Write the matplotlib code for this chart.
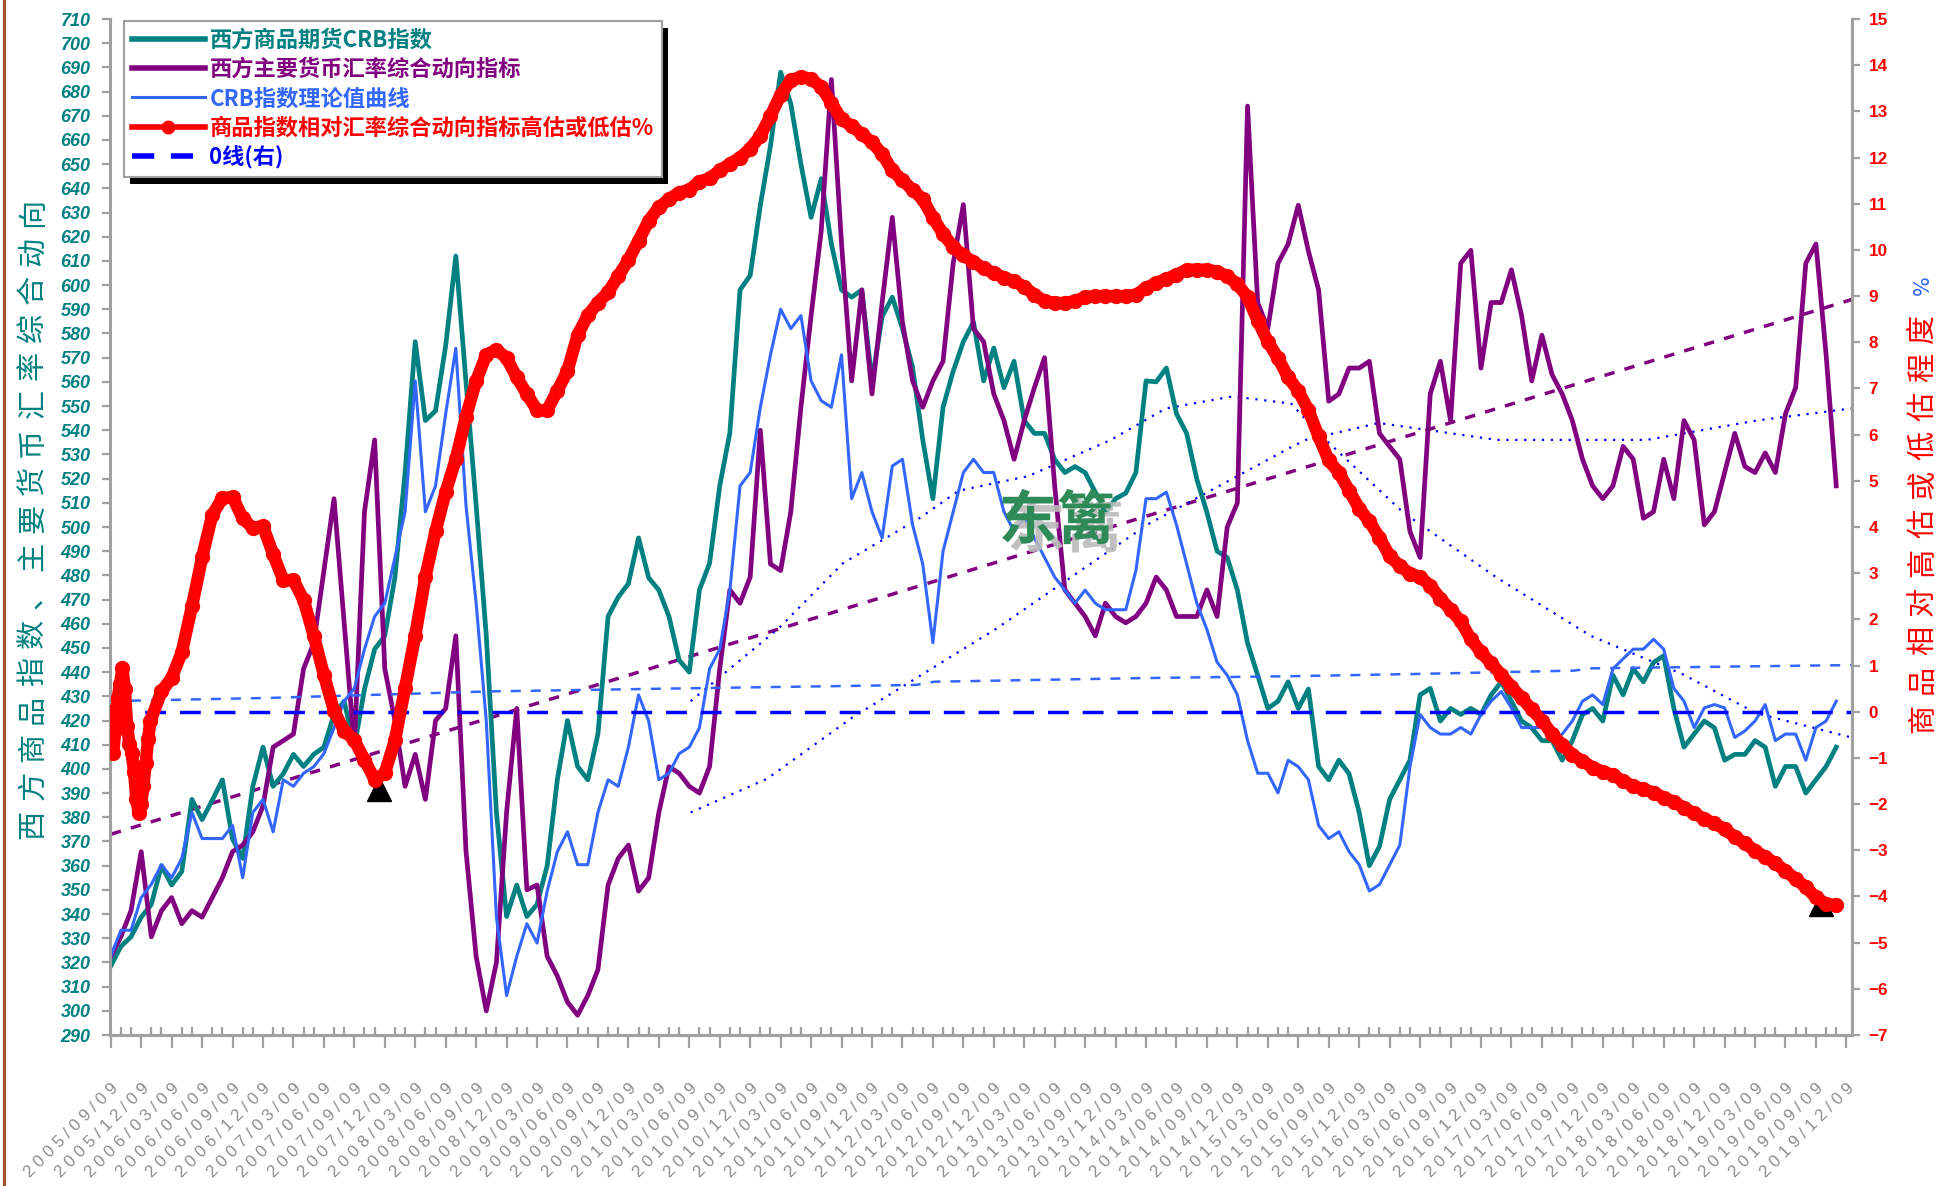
import numpy as np
import matplotlib
matplotlib.use("Agg")
import matplotlib.pyplot as plt
import matplotlib.patheffects as pe
from matplotlib.lines import Line2D
from matplotlib.patches import Rectangle
from matplotlib.transforms import IdentityTransform
from matplotlib import font_manager as fm


def has_font(name):
    try:
        fm.findfont(fm.FontProperties(family=name), fallback_to_default=False)
        return True
    except ValueError:
        return False


NUMFONT = next((f for f in ["Liberation Sans Narrow", "Liberation Sans", "DejaVu Sans"] if has_font(f)),
               "DejaVu Sans")
CJK = "Noto Sans CJK SC"

# ---- data (monthly from 2005/09/09) ----
crb = [
    318.5, 326.6, 330.6, 338.7, 344, 360, 352, 357.6, 387.4, 379,
    387, 395.5, 371, 363, 392.8, 409, 392.8, 398, 406, 401,
    406, 409, 422.5, 428, 409, 433, 449.5, 455, 479.3, 522.5,
    576.6, 544, 548, 575, 612, 560, 509, 455, 382, 339,
    352, 339, 344, 360, 395.5, 420, 401, 395.5, 414.4, 463,
    471, 476.6, 495.5, 479, 473.9, 463, 445, 440, 474, 485,
    517, 539, 598, 604, 633, 657.6, 688, 675, 650, 628,
    644, 617, 598, 595, 598, 560, 587, 595, 582, 566,
    536, 511.7, 549.5, 564.4, 576.6, 584.7, 560.4, 574, 557.6, 568.5,
    544, 538.7, 538.7, 527.9, 522.5, 525, 522.5, 514.4, 506, 511.7,
    514, 522.5, 560.4, 560, 565.7, 546.8, 538.7, 519.8, 506, 490,
    487.4, 473.9, 452, 438.7, 425, 428, 436, 425, 433, 401,
    395.5, 403.6, 398, 382, 360, 368, 387.4, 395.5, 403.6, 430.6,
    433.3, 419.8, 425, 422.5, 425, 422.5, 430.6, 436, 428, 419.8,
    417, 411.7, 411.7, 403.6, 411.7, 422.5, 425, 419.8, 438.7, 430.6,
    441.4, 436, 444, 446.8, 425, 409, 414.4, 419.8, 417, 403.6,
    406, 406, 411.7, 409, 392.8, 401, 401, 390, 395.5, 401,
    409,
]

fx_index = [
    322.5, 330.6, 341.4, 365.8, 330.6, 341.4, 346.8, 336, 341.4, 338.7,
    346.8, 355, 365.8, 368.5, 374, 384.7, 409, 411.7, 414.4, 441.4,
    452, 482, 511.7, 460.4, 409, 506.3, 536, 441.4, 420, 392.8,
    406, 387.4, 420, 425, 455, 366, 322.5, 300, 320, 382,
    425, 350, 352, 322.5, 314.4, 303.6, 298.2, 306.3, 317, 352,
    363, 368.5, 349.5, 355, 382, 400.9, 398.2, 392.8, 390, 401,
    441.4, 474, 468.5, 479.3, 540, 484.7, 482, 506.3, 549.5, 587.4,
    622.5, 685, 617, 560.4, 598, 555, 592.8, 628, 584.7, 560.4,
    549.5, 560.4, 568.5, 609, 633.3, 582, 576.6, 555, 544, 528,
    544, 557.6, 570, 517, 474, 468.5, 463, 455, 468.5, 463,
    460.4, 463, 468.5, 479.3, 474, 463, 463, 463, 474, 463,
    500, 510, 674, 592.8, 582, 609, 617, 633, 614, 598,
    552, 555, 565.7, 565.7, 568.5, 538.7, 533.3, 528, 498.2, 487.4,
    555, 568.5, 544, 609, 614.4, 565.7, 592.8, 592.8, 606.3, 587.4,
    560.4, 579.3, 563, 555, 544, 528, 517, 511.7, 517, 533.3,
    528, 503.6, 506.3, 528, 511.7, 544, 536, 500.9, 506.3, 522.5,
    538.7, 525, 522.5, 530.6, 522.5, 546.8, 557.6, 609, 617, 571.2,
    517,
]

crb_theory = [
    322.5, 333.3, 333.3, 346.8, 352.3, 360.4, 355, 363, 382, 371.2,
    371.2, 371.2, 376.6, 355, 382, 387.4, 374, 395.5, 392.8, 398.2,
    400.9, 406.3, 417, 428, 433.3, 449.5, 463, 468.5, 487.4, 506.3,
    560.4, 506.3, 517, 546.8, 573.9, 509, 468.5, 419.8, 338.7, 306.3,
    322.5, 336, 328, 349.5, 365.8, 374, 360.4, 360.4, 382, 395.5,
    392.8, 409, 430.6, 419.8, 395.5, 398.2, 406.3, 409, 417, 441.4,
    449.5, 473.9, 517, 522.5, 549.5, 571.2, 590, 582, 587.4, 560.4,
    552.2, 549.5, 571.2, 511.7, 522.5, 506.3, 495.5, 525.2, 528, 500.9,
    484.7, 452.2, 490, 506.3, 522.5, 528, 522.5, 522.5, 506.3, 498.2,
    503.6, 495.5, 487.4, 479.3, 473.9, 468.5, 473.9, 468.5, 465.8, 465.8,
    465.8, 482, 511.7, 511.7, 514.4, 500.9, 484.7, 468.5, 457.6, 444.1,
    438.7, 430.6, 411.7, 398.2, 398.2, 390.1, 403.6, 400.9, 395.5, 376.6,
    371.2, 374, 365.8, 360.4, 349.5, 352.2, 360.4, 368.5, 400.9, 422.5,
    417.1, 414.4, 414.4, 417.1, 414.4, 422.5, 428, 432, 425.2, 417.1,
    417.1, 417.1, 411.7, 414.4, 419.8, 428, 430.6, 426.6, 441.4, 445.5,
    449.5, 449.5, 453.6, 449.5, 433.3, 428, 417.1, 425.2, 426.6, 425.2,
    413, 415.7, 419.8, 426.6, 411.7, 414.4, 414.4, 403.6, 417.1, 419.8,
    428,
]

# over/under valuation %, weekly for the first 18 weeks, then monthly from 2006/02
red_weekly = [0.0, -0.9, -0.4, 0.3, 0.6, 0.95, 0.5, -0.3, -0.7, -0.9,
              -1.3, -1.9, -2.2, -2.0, -1.6, -1.1, -0.6, -0.2]
red_monthly = [
    0.44, 0.73, 1.29, 2.28, 3.34, 4.26, 4.62, 4.65, 4.19, 3.98,
    4.02, 3.41, 2.85, 2.85, 2.42, 1.65, 0.80, 0.02, -0.41, -0.62,
    -1.04, -1.47, -1.33, -0.62, 0.51, 1.65, 2.92, 3.91, 4.76, 5.47,
    6.39, 7.16, 7.73, 7.84, 7.66, 7.24, 6.88, 6.53, 6.53, 6.95,
    7.38, 8.16, 8.58, 8.86, 9.08, 9.43, 9.78, 10.2, 10.63, 10.92,
    11.1, 11.24, 11.3, 11.48, 11.55, 11.72, 11.86, 12.0, 12.19, 12.47,
    12.9, 13.36, 13.67, 13.75, 13.7, 13.53, 13.18, 12.83, 12.68, 12.51,
    12.33, 12.08, 11.72, 11.51, 11.3, 11.1, 10.7, 10.35, 10.07, 9.88,
    9.74, 9.6, 9.5, 9.4, 9.32, 9.2, 9.03, 8.89, 8.85, 8.85,
    8.89, 8.98, 9.0, 9.0, 9.0, 9.0, 9.03, 9.17, 9.29, 9.37,
    9.46, 9.57, 9.57, 9.57, 9.53, 9.43, 9.26, 8.98, 8.47, 8.01,
    7.66, 7.24, 6.95, 6.53, 5.96, 5.44, 5.18, 4.79, 4.4, 4.12,
    3.77, 3.37, 3.16, 2.99, 2.92, 2.73, 2.45, 2.21, 1.96, 1.57,
    1.29, 1.05, 0.8, 0.54, 0.3, 0.05, -0.19, -0.48, -0.72, -0.93,
    -1.07, -1.21, -1.3, -1.37, -1.5, -1.61, -1.68, -1.75, -1.86, -1.95,
    -2.08, -2.2, -2.32, -2.42, -2.54, -2.71, -2.85, -3.01, -3.15, -3.28,
    -3.45, -3.62, -3.8, -4.02, -4.16, -4.19,
]

# trend lines (decimal years)
fx_trend_year = [2005.69, 2019.98]
fx_trend_val = [373, 594]
poly1_year = [2010.45, 2011.17, 2011.7, 2012.34, 2012.65, 2013.22, 2013.9, 2014.35, 2014.9,
              2015.38, 2015.6, 2016.3, 2017.07, 2017.84, 2018.6, 2019.2, 2019.98]
poly1_val = [428, 458, 485, 504, 515, 521, 536, 549, 554, 551, 539, 506, 479, 455, 439, 423, 413]
poly2_year = [2010.45, 2011.08, 2011.77, 2012.96, 2014.2, 2015.38, 2015.5, 2016.1, 2017.07,
              2018.3, 2019.2, 2019.98]
poly2_val = [382, 396, 421, 458, 501, 533, 536, 543, 536, 536, 544, 549]
avg_year = [2005.69, 2007.0, 2008.8, 2010.5, 2012.3, 2012.45, 2014.2, 2015.4, 2016.45,
            2017.7, 2017.85, 2019.98]
avg_val = [0.23, 0.30, 0.44, 0.51, 0.58, 0.65, 0.73, 0.77, 0.82, 0.89, 0.94, 1.01]
tri_year = [2007.89, 2019.73]
tri_val = [-1.67, -4.17]

legend_labels = ["西方商品期货CRB指数", "西方主要货币汇率综合动向指标", "CRB指数理论值曲线",
                 "商品指数相对汇率综合动向指标高估或低估%", "0线(右)"]
left_title = "西方商品指数、主要货币汇率综合动向"
right_title = "商品相对高估或低估程度"

TEAL, PURPLE, BLUE, RED, DBLUE = "#008080", "#800080", "#3366FF", "#FF0000", "#0000FF"
GRAY = "#A0A0A0"

start = 2005 + 8 / 12 + 8 / 365.25
month_x = start + np.arange(len(crb)) / 12
red_x = np.concatenate([start + np.arange(len(red_weekly)) * 7 / 365.25,
                        start + (5 + np.arange(len(red_monthly))) / 12])
red_y = np.concatenate([red_weekly, red_monthly])

W, H = 1942, 1186
fig = plt.figure(figsize=(W / 100, H / 100), dpi=100)
renderer = fig.canvas.get_renderer()


def fit_size(text, target_px, **kw):
    # font size giving the wanted width in pixels, whatever font is installed
    t = fig.text(0, 0, text, fontsize=20, **kw)
    w = t.get_window_extent(renderer).width
    t.remove()
    return 20 * target_px / w


ax = fig.add_axes([110 / W, 1 - 1035 / H, 1742 / W, 1016 / H])
ax2 = ax.twinx()

ax.plot(fx_trend_year, fx_trend_val, color=PURPLE, lw=2.5, ls=(0, (3, 3)), zorder=2)
ax.plot(poly1_year, poly1_val, color=DBLUE, lw=1.6, ls=(0, (1, 3)), zorder=2)
ax.plot(poly2_year, poly2_val, color=DBLUE, lw=1.6, ls=(0, (1, 3)), zorder=2)
ax.plot(month_x, crb, color=TEAL, lw=3.4, zorder=3)
ax.plot(month_x, fx_index, color=PURPLE, lw=3.4, zorder=4)
ax.plot(month_x, crb_theory, color=BLUE, lw=2.2, zorder=5)

ax2.plot(avg_year, avg_val, color=BLUE, lw=1.8, ls=(0, (4, 4)), zorder=2)
ax2.axhline(0, color=DBLUE, lw=2.5, ls=(0, (6, 4)), zorder=2)
ax2.plot(tri_year, tri_val, ls="none", marker="^", ms=17, color="black", zorder=2.5)
ax2.plot(red_x, red_y, color=RED, lw=9, marker="o", ms=10, solid_capstyle="round",
         solid_joinstyle="round", zorder=3)

ax.set_ylim(290, 710)
ax2.set_ylim(-7, 15)
ax.set_xlim(start - 0.006, start + 14.296)
ax.set_yticks(np.arange(290, 711, 10))
ax2.set_yticks(np.arange(-7, 16, 1))

# x axis: quarterly labels, monthly minor ticks
q = np.arange(58)
ax.set_xticks(start + q * 0.25)
labels = []
for k in q:
    mm = 8 + 3 * k
    labels.append(" ".join(f"{2005 + mm // 12}/{mm % 12 + 1:02d}/09"))
xl_size = fit_size(labels[0], 126, family=NUMFONT)
ax.set_xticklabels(labels, rotation=45, ha="right", va="top", rotation_mode="anchor",
                   color="#8C8C8C", fontsize=xl_size, family=NUMFONT)
m = np.arange(172)
ax.set_xticks(start + m[m % 3 != 0] / 12, minor=True)
ax.tick_params(axis="x", which="major", direction="out", length=9, width=1.6, color=GRAY, pad=24)
ax.tick_params(axis="x", which="minor", direction="in", length=6, width=1.6, color=GRAY)

yl_size = fit_size("710", 30, family=NUMFONT, weight="bold", style="italic")
ax.tick_params(axis="y", direction="out", length=6, width=1.6, color=GRAY, pad=8)
for t in ax.get_yticklabels():
    t.set_color(TEAL)
    t.set_fontweight("bold")
    t.set_fontstyle("italic")
    t.set_family(NUMFONT)
    t.set_fontsize(yl_size)
yr_size = fit_size("15", 19, family=NUMFONT, weight="bold")
ax2.tick_params(axis="y", direction="out", length=6, width=1.6, color=GRAY, pad=6)
for t in ax2.get_yticklabels():
    t.set_color(RED)
    t.set_fontweight("bold")
    t.set_family(NUMFONT)
    t.set_fontsize(yr_size)

for a in (ax, ax2):
    a.spines["top"].set_visible(False)
    for s in ("left", "right", "bottom"):
        a.spines[s].set_color(GRAY)
        a.spines[s].set_linewidth(2.2)

# rotated axis titles with wide character spacing
for k, ch in enumerate(left_title):
    fig.text(33 / W, 1 - (824 - k * 38.2) / H, ch, rotation=90, ha="center", va="center",
             family=CJK, fontsize=21, color=TEAL)
for k, ch in enumerate(right_title):
    fig.text(1923 / W, 1 - (718 - k * 39) / H, ch, rotation=90, ha="center", va="center",
             family=CJK, fontsize=21, color=RED)
fig.text(1923 / W, 1 - 285 / H, "%", rotation=90, ha="center", va="center",
         family="DejaVu Sans", fontsize=15, color=BLUE)

# watermark
ax2.text(0.5436, 0.505, "东篱", transform=ax2.transAxes, ha="center", va="center",
         family=CJK, fontsize=42, fontweight="bold", color="#2E8B57", zorder=6,
         path_effects=[pe.SimplePatchShadow(offset=(6, -6), shadow_rgbFace="#BBBBBB", alpha=0.9),
                       pe.Normal()])

# legend
handles = [
    Line2D([], [], color=TEAL, lw=4),
    Line2D([], [], color=PURPLE, lw=4),
    Line2D([], [], color=BLUE, lw=2.2),
    Line2D([], [], color=RED, lw=4, marker="o", ms=9),
    Line2D([], [], color=DBLUE, lw=4, ls=(0, (4, 3))),
]
leg = ax2.legend(handles, legend_labels, loc="upper left", bbox_to_anchor=(0.008, 0.998),
                 frameon=True, fancybox=False, edgecolor=GRAY, framealpha=1,
                 prop=fm.FontProperties(family=CJK, size=16, weight="bold"),
                 handlelength=3.3, handletextpad=0.2, labelspacing=0.28, borderpad=0.35,
                 borderaxespad=0, numpoints=1)
leg.get_frame().set_linewidth(1.5)
leg.set_zorder(10)
for t, c in zip(leg.get_texts(), [TEAL, PURPLE, BLUE, RED, DBLUE]):
    t.set_color(c)

fig.canvas.draw()
bb = leg.get_window_extent()
ax2.add_artist(Rectangle((bb.x0 + 6, bb.y0 - 7), bb.width, bb.height, transform=IdentityTransform(),
                         facecolor="black", edgecolor="none", zorder=9.9))

# left border line
fig.add_artist(Line2D([4 / W, 4 / W], [0, 1], color="#A0522D", lw=2.2))

fig.savefig("out.png", dpi=100)
